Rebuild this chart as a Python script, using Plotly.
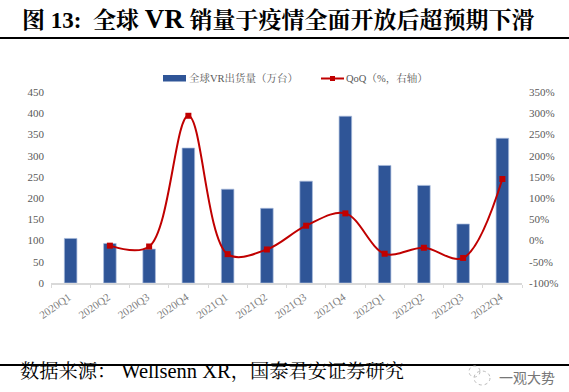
import plotly.graph_objects as go

W, H = 569, 392
L, R, T, B = 51, 522, 92, 283

quarters = ["2020Q1","2020Q2","2020Q3","2020Q4","2021Q1","2021Q2","2021Q3","2021Q4","2022Q1","2022Q2","2022Q3","2022Q4"]
shipments = [105,93,80,318,221,176,240,393,277,230,139,341]
qoq = [None,-12,-14,294,-32,-21,35,64,-31,-17,-41,145]
left_ticks = [0,50,100,150,200,250,300,350,400,450]
right_ticks = [-100,-50,0,50,100,150,200,250,300,350]
right_labels = ["-100%","-50%","0%","50%","100%","150%","200%","250%","300%","350%"]

SERIF = "Liberation Serif, Noto Serif CJK SC, Noto Sans CJK SC, serif"
GREY = "#595959"

def px(x): return (x - L) / (R - L)
def py(y): return (B - y) / (B - T)

fig = go.Figure()
fig.add_trace(go.Bar(x=quarters, y=shipments, name="全球VR出货量（万台）", marker=dict(color="#2F5597", line=dict(color="#A9BCDC", width=0.7)), width=0.32, showlegend=False))
fig.add_trace(go.Scatter(x=quarters, y=qoq, name="QoQ（%，右轴）", yaxis="y2", mode="lines+markers",
                         line=dict(color="#C00000", width=2, shape="spline", smoothing=1.0),
                         marker=dict(symbol="square", size=6, color="#C00000"), connectgaps=False, showlegend=False))

shapes = [
    dict(type="line", xref="paper", yref="paper", x0=px(0), x1=px(W), y0=py(38), y1=py(38), line=dict(color="black", width=2)),
    dict(type="line", xref="paper", yref="paper", x0=px(0), x1=px(W), y0=py(365), y1=py(365), line=dict(color="black", width=2)),
    dict(type="rect", xref="paper", yref="paper", x0=px(163), x1=px(186), y0=py(75), y1=py(81.5), fillcolor="#2F5597", line=dict(width=0)),
    dict(type="line", xref="paper", yref="paper", x0=px(321), x1=px(344), y0=py(78.5), y1=py(78.5), line=dict(color="#C00000", width=2)),
    dict(type="rect", xref="paper", yref="paper", x0=px(330), x1=px(335), y0=py(76), y1=py(81), fillcolor="#C00000", line=dict(width=0)),
    dict(type="circle", xref="paper", yref="paper", x0=px(469), x1=px(480), y0=py(366), y1=py(377), line=dict(color="#BBBBBB", width=1, dash="dot")),
    dict(type="circle", xref="paper", yref="paper", x0=px(474), x1=px(490), y0=py(371), y1=py(385), line=dict(color="#BBBBBB", width=1, dash="dot")),
]

def note(text, x, y, size, color="black", bold=False, anchor="left", family=SERIF):
    return dict(text=f"<b>{text}</b>" if bold else text, xref="paper", yref="paper", x=px(x), y=py(y), xanchor=anchor, yanchor="middle",
                showarrow=False, font=dict(family=family, size=size, color=color))

annotations = [
    note('图 13:&#160;&#160;全球 <span style="font-size:27px">VR</span> 销量于疫情全面开放后超预期下滑', 20, 19, 23, bold=True),
    note("全球VR出货量（万台）", 187, 78, 10.5, color=GREY),
    note("QoQ（%，右轴）", 344, 78, 10.5, color=GREY),
    note('数据来源：&#160;<span style="font-size:20.5px">Wellsenn XR</span>，国泰君安证券研究', 18, 371, 19.3),
    note("一观大势", 497, 377, 14, color="#777777", family="Noto Sans CJK SC"),
]

fig.update_layout(
    width=W, height=H, autosize=False, paper_bgcolor="white", plot_bgcolor="white",
    margin=dict(l=L, r=W-R, t=T, b=H-B), bargap=0.68, showlegend=False,
    font=dict(family=SERIF, color=GREY, size=11),
    xaxis=dict(type="category", categoryorder="array", categoryarray=quarters, range=[-0.5, 11.5], tickangle=-35, tickson="boundaries", ticks="outside", ticklen=3, tickcolor="#D9D9D9",
               showline=True, linecolor="#D9D9D9", linewidth=1.5, showgrid=False, ticklabelshift=-2, ticklabelstandoff=2, tickfont=dict(size=11, color="#7F7F7F")),
    yaxis=dict(range=[0,450], tickvals=left_ticks, showgrid=False, zeroline=False, ticks="", showline=False, ticklabelstandoff=6, tickfont=dict(size=11, color=GREY), automargin=False),
    yaxis2=dict(range=[-100,350], tickmode="array", tickvals=right_ticks, ticktext=right_labels, overlaying="y", side="right", showgrid=False, zeroline=False, ticks="", showline=False, ticklabelstandoff=6, tickfont=dict(size=11, color=GREY), automargin=False),
    shapes=shapes, annotations=annotations,
)
fig.write_html("out.html", config=dict(displayModeBar=False),
               post_script="document.body.style.margin='0';document.body.style.overflow='hidden';")
